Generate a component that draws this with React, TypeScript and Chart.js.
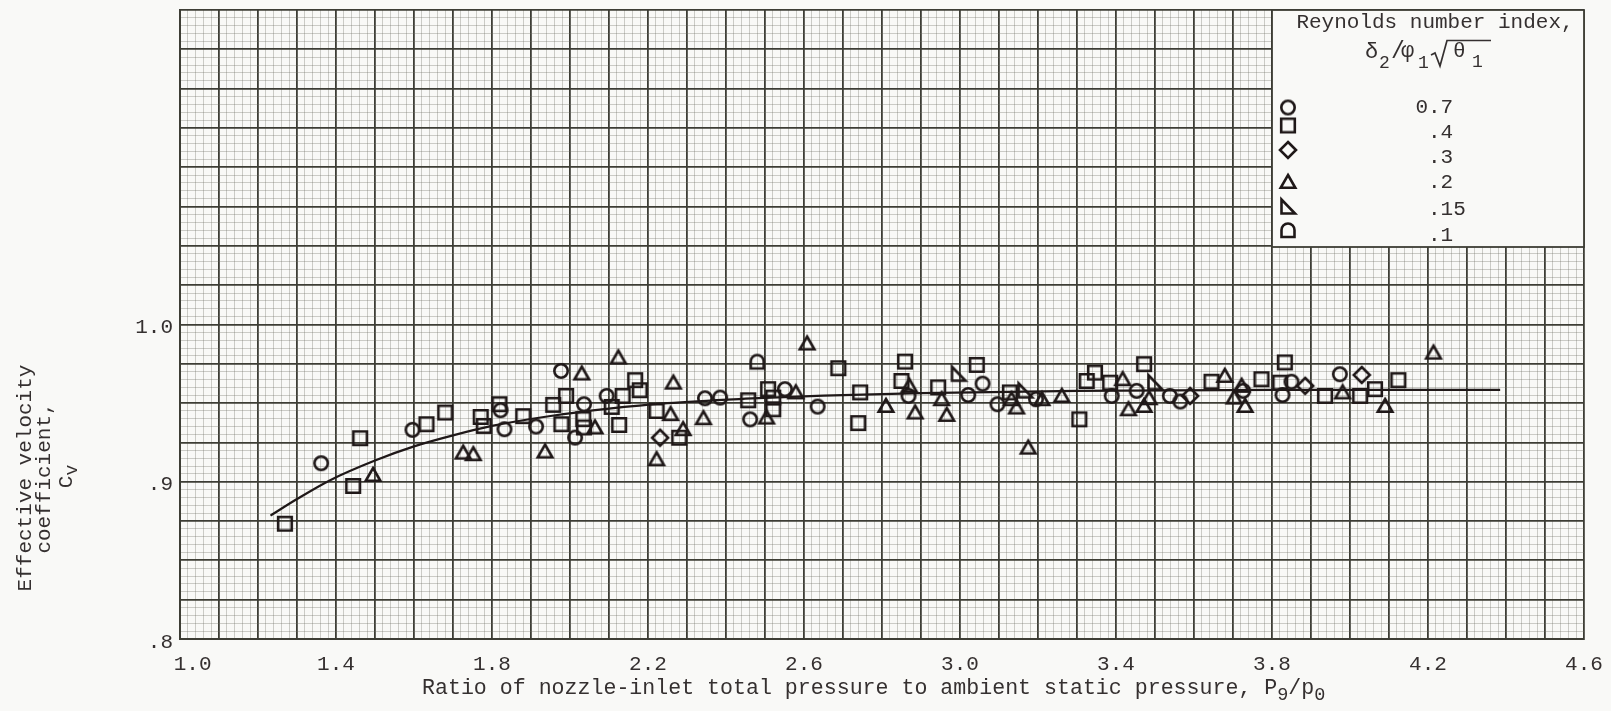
import React, { useEffect, useRef } from 'react';
import { Chart, registerables } from 'chart.js';

Chart.register(...registerables);

// ---------- data ----------
const X_MIN = 1.0;
const X_MAX = 4.6;
const Y_MIN = 0.8;
const Y_MAX = 1.2;

const xTickLabels = ['1.0', '1.4', '1.8', '2.2', '2.6', '3.0', '3.4', '3.8', '4.2', '4.6'];
const yTickLabels = ['.8', '.9', '1.0'];

const legendTitle = 'Reynolds number index,';
const seriesNames = ['0.7', '.4', '.3', '.2', '.15', '.1'];

// Reynolds number index 0.7 (circles)
const re07 = [
  [1.362, 0.9118], [1.596, 0.933], [1.822, 0.9455], [1.832, 0.9334], [1.913, 0.9351],
  [1.977, 0.9705], [2.036, 0.9493], [2.013, 0.9281], [2.094, 0.9546], [2.346, 0.9531],
  [2.385, 0.9535], [2.462, 0.9397], [2.551, 0.9589], [2.635, 0.9478], [2.868, 0.9546],
  [3.021, 0.9552], [3.058, 0.9624], [3.096, 0.9493], [3.195, 0.9525], [3.389, 0.9546],
  [3.453, 0.9578], [3.538, 0.9546], [3.565, 0.951], [3.726, 0.9578], [3.827, 0.9552],
  [3.85, 0.9636], [3.974, 0.9684],
];
// 0.4 (squares)
const re04 = [
  [1.269, 0.8733], [1.444, 0.8973], [1.462, 0.9277], [1.632, 0.9366], [1.68, 0.944],
  [1.771, 0.9412], [1.779, 0.9355], [1.819, 0.9493], [1.88, 0.9417], [1.957, 0.9489],
  [1.99, 0.9546], [1.978, 0.9366], [2.034, 0.9398], [2.036, 0.9345], [2.107, 0.9476],
  [2.135, 0.9546], [2.167, 0.9646], [2.179, 0.9582], [2.126, 0.9361], [2.222, 0.945],
  [2.28, 0.928], [2.457, 0.9518], [2.508, 0.9589], [2.521, 0.9535], [2.521, 0.9461],
  [2.688, 0.9722], [2.744, 0.9568], [2.739, 0.9373], [2.859, 0.9764], [2.85, 0.9641],
  [2.944, 0.96], [3.043, 0.9743], [3.128, 0.9568], [3.306, 0.9397], [3.325, 0.9641],
  [3.346, 0.9694], [3.385, 0.963], [3.472, 0.9748], [3.645, 0.9636], [3.773, 0.9652],
  [3.833, 0.9759], [3.821, 0.963], [3.936, 0.9546], [4.026, 0.9546], [4.064, 0.9589],
  [4.124, 0.9646],
];
// 0.3 (diamonds)
const re03 = [
  [2.231, 0.928], [3.59, 0.9546], [3.885, 0.961], [4.03, 0.9679],
];
// 0.2 (triangles)
const re02 = [
  [1.495, 0.9043], [1.726, 0.9185], [1.752, 0.9175], [1.936, 0.9192], [2.03, 0.9688],
  [2.064, 0.9345], [2.124, 0.979], [2.222, 0.9143], [2.265, 0.963], [2.258, 0.943],
  [2.29, 0.9334], [2.342, 0.9404], [2.504, 0.9408], [2.579, 0.9568], [2.608, 0.9879],
  [2.81, 0.9482], [2.87, 0.961], [2.885, 0.944], [2.953, 0.9525], [2.966, 0.9425],
  [3.132, 0.9525], [3.145, 0.9472], [3.175, 0.9217], [3.21, 0.9525], [3.261, 0.9546],
  [3.417, 0.9652], [3.432, 0.9461], [3.472, 0.9482], [3.485, 0.9531], [3.679, 0.9673],
  [3.703, 0.9535], [3.722, 0.961], [3.731, 0.9482], [3.981, 0.9568], [4.09, 0.9482],
  [4.214, 0.9821],
];
// 0.15 (right triangles)
const re015 = [
  [2.996, 0.9684], [3.167, 0.9578], [3.5, 0.963],
];
// 0.1 (flat-bottomed arch)
const re01 = [
  [2.48, 0.9765],
];
// faired curve
const fairedCurve = [
  [1.232, 0.8785], [1.3, 0.889], [1.385, 0.901], [1.5, 0.9135], [1.6, 0.9225],
  [1.7, 0.9295], [1.8, 0.9355], [1.95, 0.9418], [2.1, 0.9465], [2.25, 0.95],
  [2.45, 0.9528], [2.65, 0.9548], [2.9, 0.9563], [3.3, 0.9578], [3.8, 0.9584],
  [4.385, 0.9584],
];

// ---------- styles ----------
const INK = '#1f1818';
const MAJOR = '#3d3d35';
const MINOR = 'rgba(110,110,100,0.33)';
const BG = '#f9f9f7';
const TEXT = '#353030';
const FONT = '"Liberation Mono", "DejaVu Sans Mono", monospace';

function makeMarker(kind: string): HTMLCanvasElement {
  const c = document.createElement('canvas');
  c.width = 24;
  c.height = 24;
  const g = c.getContext('2d') as CanvasRenderingContext2D;
  g.strokeStyle = INK;
  g.lineWidth = 2.6;
  g.lineJoin = 'miter';
  g.beginPath();
  switch (kind) {
    case 'circle':
      g.arc(12, 12, 6.7, 0, Math.PI * 2);
      break;
    case 'square':
      g.rect(5.2, 5.2, 13.6, 13.6);
      break;
    case 'diamond':
      g.moveTo(12, 4); g.lineTo(20, 12); g.lineTo(12, 20); g.lineTo(4, 12); g.closePath();
      break;
    case 'triangle':
      g.moveTo(12, 5); g.lineTo(19.3, 17.8); g.lineTo(4.7, 17.8); g.closePath();
      break;
    case 'rightTri':
      g.moveTo(5.5, 4.5); g.lineTo(5.5, 18.5); g.lineTo(19, 18.5); g.closePath();
      break;
    case 'dee':
      g.moveTo(5.5, 19); g.lineTo(5.5, 12); g.arc(12, 12, 6.5, Math.PI, 0); g.lineTo(18.5, 19); g.closePath();
      break;
  }
  g.stroke();
  return c;
}

const near = (a: number, b: number) => Math.abs(a - b) < 1e-6;

export default function App() {
  const ref = useRef<HTMLCanvasElement | null>(null);

  useEffect(() => {
    document.body.style.margin = '0';
    const canvas = ref.current;
    if (!canvas) return;

    const kinds = ['circle', 'square', 'diamond', 'triangle', 'rightTri', 'dee'];
    const markers = kinds.map(makeMarker);
    const seriesData = [re07, re04, re03, re02, re015, re01];

    const decorations = {
      id: 'decorations',
      beforeDraw(chart: any) {
        const ctx = chart.ctx;
        ctx.save();
        ctx.fillStyle = BG;
        ctx.fillRect(0, 0, chart.width, chart.height);
        ctx.restore();
      },
      afterDraw(chart: any) {
        const ctx: CanvasRenderingContext2D = chart.ctx;
        const area = chart.chartArea;
        ctx.save();
        // ---- legend box ----
        const bx = 1272, by = area.top, bw = area.right - 1272, bh = 247 - area.top;
        ctx.fillStyle = BG;
        ctx.fillRect(bx, by, bw, bh);
        ctx.strokeStyle = MAJOR;
        ctx.lineWidth = 1.8;
        ctx.strokeRect(bx, by, bw, bh);
        ctx.fillStyle = TEXT;
        ctx.textBaseline = 'middle';
        const big = `21px ${FONT}`;
        const sub = `18px ${FONT}`;
        ctx.font = big;
        ctx.textAlign = 'center';
        ctx.fillText(legendTitle, 1435, 22);
        // formula delta2/phi1 sqrt(theta1)
        ctx.textAlign = 'left';
        ctx.font = `22px ${FONT}`;
        ctx.fillText('\u03b4', 1365, 52);
        ctx.font = sub;
        ctx.fillText('2', 1379, 63);
        ctx.font = `23px ${FONT}`;
        ctx.fillText('/', 1391, 52);
        ctx.font = `22px ${FONT}`;
        ctx.fillText('\u03c6', 1401, 51);
        ctx.font = sub;
        ctx.fillText('1', 1418, 63);
        ctx.font = `21px ${FONT}`;
        ctx.fillText('\u03b8', 1453, 51);
        ctx.font = sub;
        ctx.fillText('1', 1472, 62);
        // radical sign with vinculum
        ctx.strokeStyle = TEXT;
        ctx.lineWidth = 1.7;
        ctx.beginPath();
        ctx.moveTo(1431, 55);
        ctx.lineTo(1435, 53);
        ctx.lineTo(1440, 66);
        ctx.lineTo(1447, 40.5);
        ctx.lineTo(1491, 40.5);
        ctx.stroke();
        // entries
        const my = [107.5, 125.5, 150, 182, 207, 230];
        const ly = [107, 132, 157, 182, 209, 235];
        ctx.font = big;
        for (let i = 0; i < seriesNames.length; i++) {
          ctx.drawImage(markers[i], 1288 - 12, my[i] - 12);
          const name = seriesNames[i];
          const lx = name.startsWith('.') ? 1428 : 1428 - ctx.measureText('0').width;
          ctx.fillText(name, lx, ly[i]);
        }
        // ---- x title ----
        const tBig = `21.6px ${FONT}`;
        const tSub = `18.5px ${FONT}`;
        const main = 'Ratio of nozzle-inlet total pressure to ambient static pressure, P';
        let x = 422;
        const ty = 688;
        const putT = (t: string, f: string, dy: number) => {
          ctx.font = f;
          ctx.fillText(t, x, ty + dy);
          x += ctx.measureText(t).width;
        };
        putT(main, tBig, 0);
        putT('9', tSub, 7);
        putT('/p', tBig, 0);
        putT('0', tSub, 7);
        // ---- y title (rotated) ----
        ctx.save();
        ctx.translate(0, 478);
        ctx.rotate(-Math.PI / 2);
        ctx.textAlign = 'center';
        ctx.font = big;
        ctx.fillText('Effective velocity', 0, 25);
        ctx.fillText('coefficient,', 0, 44);
        ctx.fillText('C', -4, 66);
        ctx.font = sub;
        ctx.fillText('v', 8, 72);
        ctx.restore();
        ctx.restore();
      },
    };

    const chart = new Chart(canvas, {
      type: 'scatter',
      data: {
        datasets: [
          {
            label: 'faired',
            data: fairedCurve.map(([x, y]) => ({ x, y })),
            showLine: true,
            borderColor: INK,
            borderWidth: 2.2,
            pointRadius: 0,
            cubicInterpolationMode: 'monotone',
            fill: false,
          } as any,
          ...seriesData.map((d, i) => ({
            label: seriesNames[i],
            data: d.map(([x, y]) => ({ x, y })),
            pointStyle: markers[i],
            pointRadius: 8,
            showLine: false,
          })),
        ],
      },
      options: {
        animation: false,
        responsive: false,
        devicePixelRatio: 1,
        layout: { padding: { left: 0, top: 10, right: 27, bottom: 0 } },
        plugins: { legend: { display: false }, tooltip: { enabled: false } },
        scales: {
          x: {
            type: 'linear',
            min: X_MIN,
            max: X_MAX,
            afterFit: (s: any) => {
              s.height = 72;
              s.paddingLeft = 0;
              s.paddingRight = 0;
            },
            border: { display: true, color: MAJOR, width: 2 },
            grid: {
              drawTicks: false,
              color: (c: any) => (near(c.tick.value * 10, Math.round(c.tick.value * 10)) ? MAJOR : MINOR),
              lineWidth: (c: any) => (near(c.tick.value * 10, Math.round(c.tick.value * 10)) ? 1.8 : 1),
            },
            ticks: {
              stepSize: 0.02,
              autoSkip: false,
              maxRotation: 0,
              minRotation: 0,
              padding: 13,
              color: TEXT,
              font: { family: FONT, size: 21 },
              callback: (v: any) => {
                const k = Math.round((Number(v) - X_MIN) * 100);
                if (k % 40 !== 0) return '';
                const lbl = xTickLabels[k / 40] ?? '';
                return k === 0 ? '  ' + lbl : lbl;
              },
            },
          },
          y: {
            type: 'linear',
            min: Y_MIN,
            max: Y_MAX,
            afterFit: (s: any) => {
              s.width = 180;
              s.paddingTop = 0;
              s.paddingBottom = 0;
            },
            border: { display: true, color: MAJOR, width: 2 },
            grid: {
              drawTicks: false,
              color: (c: any) => (Math.round(c.tick.value * 1000) % 25 === 0 ? MAJOR : MINOR),
              lineWidth: (c: any) => (Math.round(c.tick.value * 1000) % 25 === 0 ? 1.8 : 1),
            },
            ticks: {
              stepSize: 0.005,
              autoSkip: false,
              padding: 7,
              labelOffset: 3,
              color: TEXT,
              font: { family: FONT, size: 21 },
              callback: (v: any) => {
                const k = Math.round(Number(v) * 1000);
                if (k === 800) return yTickLabels[0];
                if (k === 900) return yTickLabels[1];
                if (k === 1000) return yTickLabels[2];
                return '';
              },
            },
          },
        },
      },
      plugins: [decorations],
    } as any);

    return () => chart.destroy();
  }, []);

  return (
    <div style={{ width: 1611, height: 711 }}>
      <canvas ref={ref} width={1611} height={711} style={{ display: 'block', width: 1611, height: 711 }} />
    </div>
  );
}
